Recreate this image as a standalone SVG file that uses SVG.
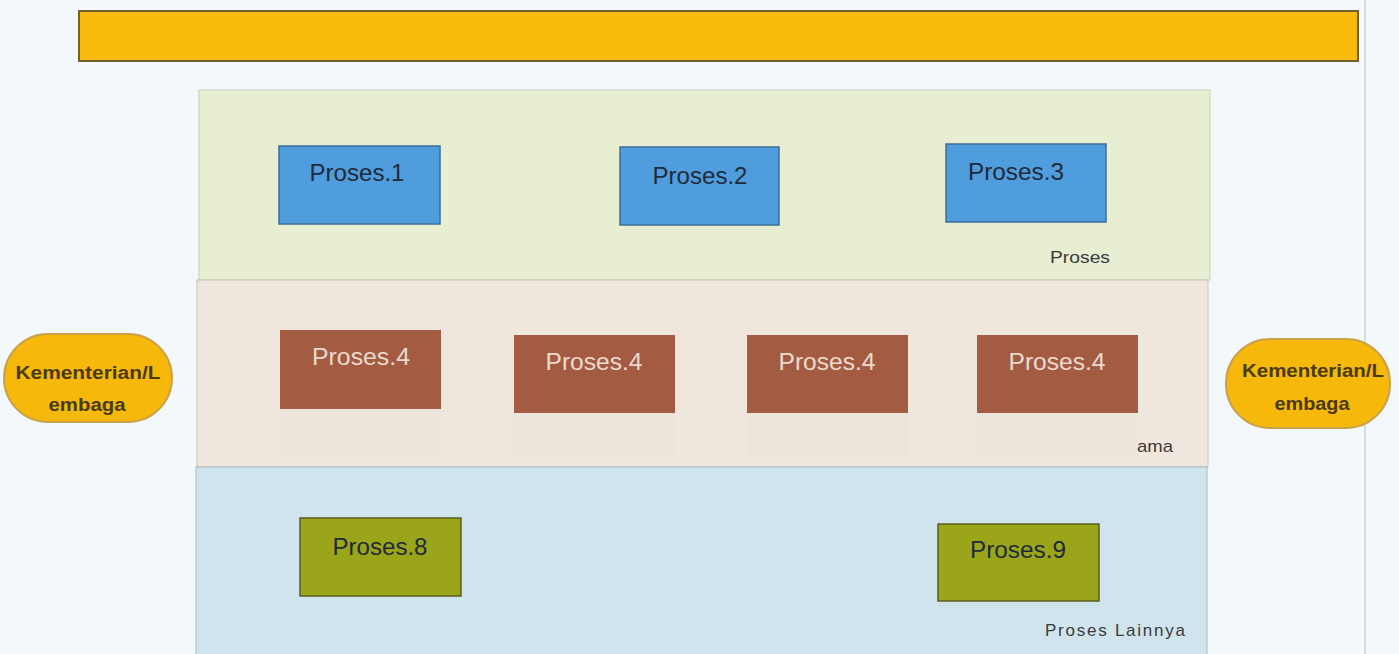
<svg xmlns="http://www.w3.org/2000/svg" width="1399" height="654" viewBox="0 0 1399 654">
<style>
.lbl{font-family:"Liberation Sans","DejaVu Sans",sans-serif;font-size:23px;text-anchor:middle}
.dark{fill:#1f2a3a}
.light{fill:#eadbd0}
.small{font-family:"Liberation Sans","DejaVu Sans",sans-serif;font-size:17px;fill:#3a3a3a}
.kl{font-family:"Liberation Sans","DejaVu Sans",sans-serif;font-size:18px;font-weight:bold;fill:#4a3a10;text-anchor:middle}
.blue{fill:#4f9ddc;stroke:#3d6f99;stroke-width:1.5}
.brown{fill:#a35c42}
.olive{fill:#9aa51a;stroke:#5c5e1e;stroke-width:1.5}
.pill{fill:#f6b80a;stroke:#c9a24a;stroke-width:2}
</style>
<rect width="1399" height="654" fill="#f3f8fb"/>
<line x1="1365" y1="0" x2="1365" y2="654" stroke="#d6dbe0" stroke-width="2"/>
<g id="header"><rect x="79" y="11" width="1279" height="50" fill="#f8bb0c" stroke="#6e6234" stroke-width="2"/></g>
<g id="lane-proses"><rect x="199" y="90" width="1011" height="190" fill="#e7eed2" stroke="#c8cfb8" stroke-width="1"/>
<text class="small" x="1050" y="263" textLength="60" lengthAdjust="spacingAndGlyphs">Proses</text></g>
<g id="lane-ama"><rect x="197" y="280" width="1011" height="187" fill="#efe7dd" stroke="#c8c2ba" stroke-width="1"/>
<rect x="280" y="409" width="161" height="48" fill="#ede5db"/>
<rect x="514" y="413" width="161" height="44" fill="#ede5db"/>
<rect x="747" y="413" width="161" height="44" fill="#ede5db"/>
<rect x="977" y="413" width="161" height="44" fill="#ede5db"/>
<text class="small" x="1137" y="452" textLength="36" lengthAdjust="spacingAndGlyphs">ama</text></g>
<g id="lane-lainnya"><rect x="196" y="467" width="1011" height="190" fill="#d0e4ee" stroke="#aab8c0" stroke-width="1"/>
<text class="small" x="1045" y="636" textLength="140" lengthAdjust="spacing">Proses Lainnya</text></g>
<g id="p1"><rect class="blue" x="279" y="146" width="161" height="78"/><text class="lbl dark" x="357" y="181" textLength="95" lengthAdjust="spacingAndGlyphs">Proses.1</text></g>
<g id="p2"><rect class="blue" x="620" y="147" width="159" height="78"/><text class="lbl dark" x="700" y="184" textLength="95" lengthAdjust="spacingAndGlyphs">Proses.2</text></g>
<g id="p3"><rect class="blue" x="946" y="144" width="160" height="78"/><text class="lbl dark" x="1016" y="180" textLength="96" lengthAdjust="spacingAndGlyphs">Proses.3</text></g>
<g id="p4a"><rect class="brown" x="280" y="330" width="161" height="79"/><text class="lbl light" x="361" y="365" textLength="98" lengthAdjust="spacingAndGlyphs">Proses.4</text></g>
<g id="p4b"><rect class="brown" x="514" y="335" width="161" height="78"/><text class="lbl light" x="594" y="370" textLength="97" lengthAdjust="spacingAndGlyphs">Proses.4</text></g>
<g id="p4c"><rect class="brown" x="747" y="335" width="161" height="78"/><text class="lbl light" x="827" y="370" textLength="97" lengthAdjust="spacingAndGlyphs">Proses.4</text></g>
<g id="p4d"><rect class="brown" x="977" y="335" width="161" height="78"/><text class="lbl light" x="1057" y="370" textLength="97" lengthAdjust="spacingAndGlyphs">Proses.4</text></g>
<g id="p8"><rect class="olive" x="300" y="518" width="161" height="78"/><text class="lbl dark" x="380" y="555" textLength="95" lengthAdjust="spacingAndGlyphs">Proses.8</text></g>
<g id="p9"><rect class="olive" x="938" y="524" width="161" height="77"/><text class="lbl dark" x="1018" y="558" textLength="96" lengthAdjust="spacingAndGlyphs">Proses.9</text></g>
<g id="kl-left"><rect class="pill" x="4" y="334" width="168" height="88" rx="44" ry="44"/><text class="kl" x="88" y="379" textLength="145" lengthAdjust="spacingAndGlyphs">Kementerian/L</text><text class="kl" x="87" y="411" textLength="77" lengthAdjust="spacingAndGlyphs">embaga</text></g>
<g id="kl-right"><rect class="pill" x="1226" y="339" width="164" height="89" rx="44" ry="44"/><text class="kl" x="1313" y="377" textLength="142" lengthAdjust="spacingAndGlyphs">Kementerian/L</text><text class="kl" x="1312" y="410" textLength="75" lengthAdjust="spacingAndGlyphs">embaga</text></g>
<g id="connectors"></g>
</svg>
